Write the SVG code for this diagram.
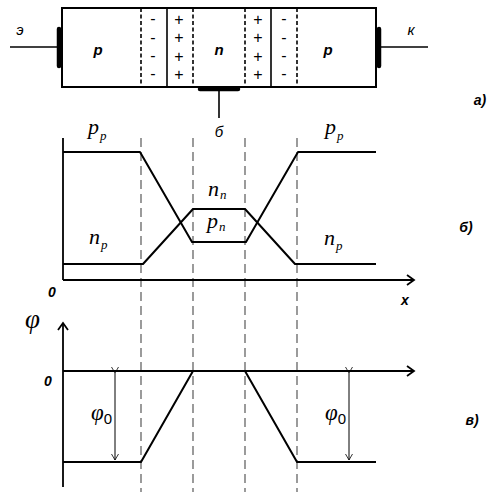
<svg xmlns="http://www.w3.org/2000/svg" width="500" height="492" viewBox="0 0 500 492">
<defs>
<marker id="chev" markerWidth="12" markerHeight="12" refX="10" refY="6" orient="auto" markerUnits="userSpaceOnUse">
<path d="M3,1 L10,6 L3,11" fill="none" stroke="#000" stroke-width="1.8"/>
</marker>
<marker id="thin" markerWidth="10" markerHeight="10" refX="8" refY="5" orient="auto" markerUnits="userSpaceOnUse">
<path d="M2,1.5 L8,5 L2,8.5" fill="none" stroke="#000" stroke-width="0.8"/>
</marker>
</defs>
<style>
.box{fill:none;stroke:#000;stroke-width:2}
.dk{stroke:#000;stroke-width:1.6;stroke-dasharray:4,2.5}
.ln{stroke:#000;stroke-width:1.6;fill:none}
.cv{stroke:#000;stroke-width:2;fill:none;stroke-linejoin:round}
.ax{stroke:#000;stroke-width:1.8;fill:none}
.gd{stroke:#666;stroke-width:1.3;stroke-dasharray:9,5}
.bar{stroke:#000;stroke-width:4.5;stroke-linecap:round}
.reg{font-family:"Liberation Sans",Arial,sans-serif;font-weight:bold;font-style:italic;font-size:15px;text-anchor:middle}
.sg{font-family:"Liberation Sans",Arial,sans-serif;font-size:16px;text-anchor:middle;fill:#000}
.lt{font-family:"Liberation Sans",Arial,sans-serif;font-style:italic;font-size:15px;text-anchor:middle}
.cap{font-family:"Liberation Sans",Arial,sans-serif;font-weight:bold;font-style:italic;font-size:14px;text-anchor:middle}
.ms{font-family:"Liberation Serif","DejaVu Serif",serif;font-style:italic;font-size:22px}
.sub{font-size:13px}
.phi{font-family:"Liberation Serif","DejaVu Serif",serif;font-style:italic;font-size:23px}
.phibig{font-family:"Liberation Serif","DejaVu Serif",serif;font-style:italic;font-size:27px}
.sub0{font-family:"Liberation Sans",Arial,sans-serif;font-style:normal;font-size:15px}
</style>

<g id="device">
<rect class="box" x="62" y="8" width="314" height="79"/>
<line class="dk" x1="141" y1="8" x2="141" y2="87"/>
<line class="ln" x1="167" y1="8" x2="167" y2="87"/>
<line class="dk" x1="193" y1="8" x2="193" y2="87"/>
<line class="dk" x1="245" y1="8" x2="245" y2="87"/>
<line class="ln" x1="271" y1="8" x2="271" y2="87"/>
<line class="dk" x1="297" y1="8" x2="297" y2="87"/>
<text class="reg" x="98" y="55">p</text>
<text class="reg" x="219" y="55">n</text>
<text class="reg" x="328" y="55">p</text>
<g class="sg">
<text x="153" y="24">-</text><text x="153" y="43">-</text><text x="153" y="61">-</text><text x="153" y="79">-</text>
<text x="179" y="25">+</text><text x="179" y="43">+</text><text x="179" y="62">+</text><text x="179" y="80">+</text>
<text x="258" y="25">+</text><text x="258" y="43">+</text><text x="258" y="62">+</text><text x="258" y="80">+</text>
<text x="284" y="24">-</text><text x="284" y="43">-</text><text x="284" y="61">-</text><text x="284" y="79">-</text>
</g>
</g>

<g id="emitter">
<line class="bar" x1="59" y1="29" x2="59" y2="66"/>
<line class="ln" x1="10" y1="47" x2="59" y2="47"/>
<text class="lt" x="20" y="35">э</text>
</g>
<g id="collector">
<line class="bar" x1="379" y1="29" x2="379" y2="66"/>
<line class="ln" x1="379" y1="47" x2="428" y2="47"/>
<text class="lt" x="411" y="35">к</text>
</g>
<g id="base">
<line class="bar" x1="200" y1="89" x2="238" y2="89"/>
<line class="ln" x1="219" y1="89" x2="219" y2="118"/>
<text class="lt" x="219" y="137">б</text>
</g>
<text class="cap" x="480" y="105">а)</text>

<g id="guides">
<line class="gd" x1="141" y1="138" x2="141" y2="492"/>
<line class="gd" x1="193" y1="138" x2="193" y2="492"/>
<line class="gd" x1="245" y1="138" x2="245" y2="492"/>
<line class="gd" x1="297" y1="138" x2="297" y2="492"/>
</g>

<g id="graph-b">
<line class="ax" x1="63" y1="138" x2="63" y2="280"/>
<line class="ax" x1="63" y1="280" x2="414" y2="280" marker-end="url(#chev)"/>
<polyline class="cv" points="63,152 140,152 192,242 246,242 298,152 376,152"/>
<polyline class="cv" points="63,264 143,264 193,209 245,209 295,264 376,264"/>
<text class="cap" x="52" y="297">0</text>
<text class="cap" x="405" y="305">x</text>
<text class="cap" x="466" y="232">б)</text>
<text class="ms" x="88" y="134">p<tspan class="sub" dx="1" dy="6">p</tspan></text>
<text class="ms" x="325" y="134">p<tspan class="sub" dx="1" dy="6">p</tspan></text>
<text class="ms" x="208" y="196">n<tspan class="sub" dx="1" dy="3">n</tspan></text>
<text class="ms" x="207" y="228">p<tspan class="sub" dx="1" dy="3">n</tspan></text>
<text class="ms" x="89" y="244">n<tspan class="sub" dx="1" dy="5">p</tspan></text>
<text class="ms" x="324" y="245">n<tspan class="sub" dx="1" dy="5">p</tspan></text>
</g>

<g id="graph-c">
<line class="ax" x1="63" y1="487" x2="63" y2="323" marker-end="url(#chev)"/>
<line class="ax" x1="63" y1="371" x2="414" y2="371" marker-end="url(#chev)"/>
<polyline class="cv" points="63,462 141,462 193,371 245,371 297,462 376,462"/>
<line stroke="#000" stroke-width="1" x1="115" y1="373" x2="115" y2="460" marker-start="url(#thin)" marker-end="url(#thin)"/>
<line stroke="#000" stroke-width="1" x1="349" y1="373" x2="349" y2="460" marker-start="url(#thin)" marker-end="url(#thin)"/>
<text class="phibig" x="25" y="328">φ</text>
<text class="cap" x="48" y="386">0</text>
<text class="phi" x="91" y="420">φ<tspan class="sub0" dy="4">0</tspan></text>
<text class="phi" x="325" y="420">φ<tspan class="sub0" dy="4">0</tspan></text>
<text class="cap" x="472" y="425">в)</text>
</g>
</svg>
